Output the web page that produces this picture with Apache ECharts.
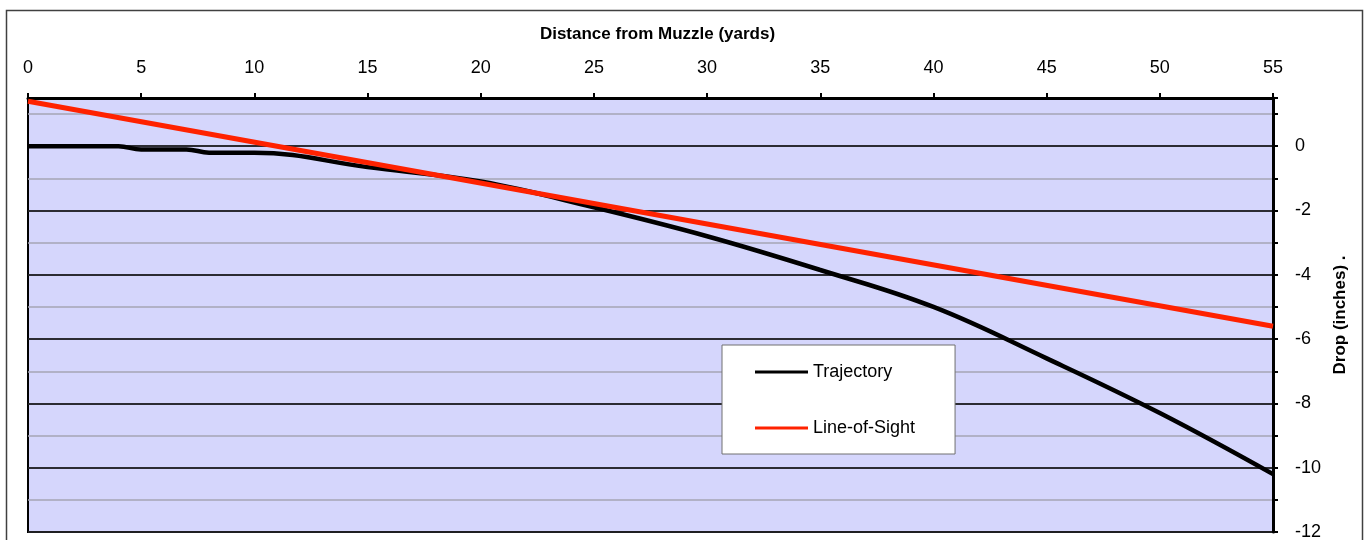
<!DOCTYPE html>
<html>
<head>
<meta charset="utf-8">
<script src="https://cdn.jsdelivr.net/npm/echarts@6/dist/echarts.min.js"></script>
<style>
  html, body { margin: 0; padding: 0; background: #fff; }
  #chart { width: 1371px; height: 540px; }
</style>
</head>
<body>
<div id="chart"></div>
<script>
// 弹道数据 (yards / inches)
const trajYards = [0, 1, 2, 3, 4, 5, 6, 7, 8, 9, 10, 15, 20, 25, 30, 35, 40, 45, 50, 55];
const trajDrop = [0, 0, 0, 0, 0, -0.1, -0.1, -0.1, -0.2, -0.2, -0.2, -0.65, -1.1, -1.9, -2.8, -3.85, -5.0, -6.6, -8.3, -10.2];
// 瞄准线
const losYards = [0, 55];
const losDrop = [1.4, -5.6];

const seriesNames = ['Trajectory', 'Line-of-Sight'];
const seriesColors = ['#000000', '#FF2200'];

const chart = echarts.init(document.getElementById('chart'));

const toPairs = (xs, ys) => xs.map((x, i) => [x, ys[i]]);

const option = {
  animation: false,
  backgroundColor: '#fff',
  textStyle: { fontFamily: 'Liberation Sans, Arial, sans-serif' },
  grid: {
    left: 28,
    right: 98,
    top: 98,
    bottom: 8,
    show: true,
    backgroundColor: '#D5D6FC',
    borderColor: '#000',
    borderWidth: 2,
    outerBoundsMode: 'none'
  },
  legend: {
    orient: 'vertical',
    left: 722,
    top: 345,
    padding: [18, 40, 17, 33],
    itemWidth: 53,
    itemHeight: 3,
    itemGap: 38,
    backgroundColor: '#fff',
    borderColor: '#707070',
    borderWidth: 1,
    textStyle: { fontSize: 18, color: '#000' },
    data: [
      { name: seriesNames[0], icon: 'rect', itemStyle: { color: seriesColors[0] } },
      { name: seriesNames[1], icon: 'rect', itemStyle: { color: seriesColors[1] } }
    ]
  },
  xAxis: {
    type: 'value',
    position: 'top',
    min: 0,
    max: 55,
    interval: 5,
    name: 'Distance from Muzzle (yards)',
    nameLocation: 'middle',
    nameGap: 55,
    nameTextStyle: { fontSize: 17, fontWeight: 'bold', color: '#000', padding: [0, 0, 0, 14] },
    axisLine: { show: true, onZero: false, lineStyle: { color: '#000', width: 3 } },
    axisTick: { show: true, inside: false, length: 5, lineStyle: { color: '#000', width: 2 } },
    axisLabel: { fontSize: 18, color: '#000', margin: 21 },
    splitLine: { show: false }
  },
  yAxis: [
    {
      type: 'value',
      position: 'right',
      min: -12,
      max: 1.5,
      interval: 2,
      z: 1,
      name: 'Drop (inches) .',
      nameLocation: 'middle',
      nameRotate: 90,
      nameGap: 54,
      nameTextStyle: { fontSize: 17, fontWeight: 'bold', color: '#000' },
      axisLine: { show: true, onZero: false, lineStyle: { color: '#000', width: 3 } },
      axisTick: { show: true, inside: false, length: 5, lineStyle: { color: '#000', width: 2 } },
      axisLabel: { fontSize: 18, color: '#000', margin: 22, showMaxLabel: false },
      splitLine: { show: true, lineStyle: { color: '#000', width: 1.5 } }
    },
    {
      // 次网格线 (奇数)
      type: 'value',
      position: 'right',
      min: -12,
      max: 1.5,
      interval: 1,
      z: 0,
      axisLine: { show: false, onZero: false },
      axisTick: { show: true, inside: false, length: 5, lineStyle: { color: '#000', width: 2 } },
      axisLabel: { show: false },
      splitLine: { show: true, lineStyle: { color: '#A4A4B4', width: 1.5 } }
    }
  ],
  series: [
    {
      name: seriesNames[0],
      type: 'line',
      yAxisIndex: 0,
      data: toPairs(trajYards, trajDrop),
      symbol: 'none',
      smooth: 0.4,
      lineStyle: { color: seriesColors[0], width: 4.5 },
      itemStyle: { color: seriesColors[0] },
      z: 3
    },
    {
      name: seriesNames[1],
      type: 'line',
      yAxisIndex: 0,
      data: toPairs(losYards, losDrop),
      symbol: 'none',
      lineStyle: { color: seriesColors[1], width: 5 },
      itemStyle: { color: seriesColors[1] },
      z: 4
    }
  ],
  graphic: [
    {
      type: 'rect',
      shape: { x: 6.5, y: 10.5, width: 1356, height: 560 },
      style: { fill: null, stroke: '#404040', lineWidth: 1.5 },
      silent: true,
      z: 10
    }
  ]
};

chart.setOption(option);
</script>
</body>
</html>
